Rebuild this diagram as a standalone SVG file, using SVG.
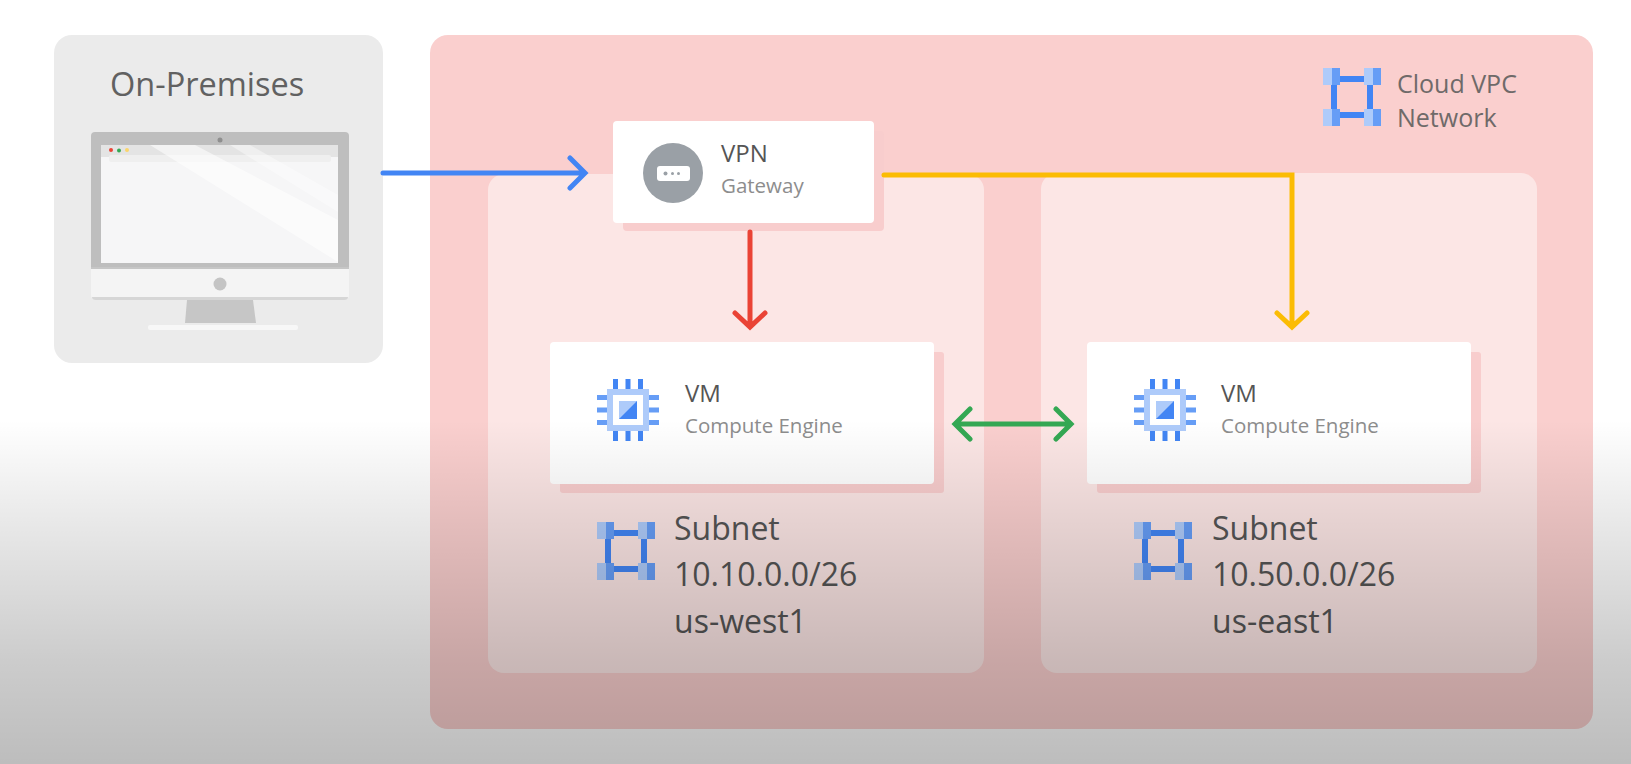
<svg xmlns="http://www.w3.org/2000/svg" xmlns:xlink="http://www.w3.org/1999/xlink" width="1631" height="764" viewBox="0 0 1631 764">
<style>
text{font-family:"Open Sans","Noto Sans","Liberation Sans",sans-serif}
.lg{font-size:32px;fill:#555}
.md{font-size:24px;fill:#555}
.sm{font-size:20.5px;fill:#8d8d8d}
.vpc{font-size:25px;fill:#6f6a69}
.sub{fill:#fce6e5}
.shadow{fill:#f8cdcd}
.card{fill:#fff}
.conn{fill:none;stroke-width:5;stroke-linecap:round;stroke-linejoin:miter}
.c1{fill:#aecbfa}.c2{fill:#669df6}.c3{fill:#4285f4}
</style>
<defs>
<linearGradient id="fade" x1="0" y1="0" x2="0" y2="1">
<stop offset="0" stop-color="#000" stop-opacity="0"/>
<stop offset="0.3" stop-color="#000" stop-opacity="0.09"/>
<stop offset="0.7" stop-color="#000" stop-opacity="0.2"/>
<stop offset="1" stop-color="#000" stop-opacity="0.26"/>
</linearGradient>
<g id="net">
<rect x="5" y="8" width="48" height="6" class="c3"/>
<rect x="5" y="44" width="48" height="6" class="c3"/>
<rect x="8" y="8" width="6" height="42" class="c3"/>
<rect x="44" y="8" width="6" height="42" class="c3"/>
<rect x="0" y="0" width="9" height="17" class="c1"/><rect x="9" y="0" width="8" height="17" class="c2"/>
<rect x="41" y="0" width="9" height="17" class="c1"/><rect x="50" y="0" width="8" height="17" class="c2"/>
<rect x="0" y="41" width="9" height="17" class="c1"/><rect x="9" y="41" width="8" height="17" class="c2"/>
<rect x="41" y="41" width="9" height="17" class="c1"/><rect x="50" y="41" width="8" height="17" class="c2"/>
</g>
<g id="chip">
<rect x="-21" y="-21" width="42" height="42" class="c1"/>
<rect x="-15" y="-15" width="30" height="30" fill="#fff"/>
<rect x="-9" y="-9" width="18" height="18" class="c1"/>
<polygon points="9,-9 9,9 -9,9" class="c3"/>
<g class="c3">
<rect x="-15" y="-31" width="5" height="10"/><rect x="-2.5" y="-31" width="5" height="10"/><rect x="10" y="-31" width="5" height="10"/>
<rect x="-15" y="21" width="5" height="10"/><rect x="-2.5" y="21" width="5" height="10"/><rect x="10" y="21" width="5" height="10"/>
</g>
<g class="c2">
<rect x="-31" y="-15" width="10" height="5"/><rect x="-31" y="-2.5" width="10" height="5"/><rect x="-31" y="10" width="10" height="5"/>
<rect x="21" y="-15" width="10" height="5"/><rect x="21" y="-2.5" width="10" height="5"/><rect x="21" y="10" width="10" height="5"/>
</g>
</g>
</defs>
<rect width="1631" height="764" fill="#fff"/>

<g id="on-premises">
<rect x="54" y="35" width="329" height="328" rx="18" fill="#ebebeb"/>
<text x="110" y="96" font-size="33" fill="#616161" style="font-size:32.5px">On-Premises</text>
<path d="M91 136a4 4 0 0 1 4-4h250a4 4 0 0 1 4 4v132H91z" fill="#bebebe"/>
<rect x="101" y="145" width="237" height="118" fill="#f6f6f7"/>
<rect x="101" y="145" width="237" height="12" fill="#e4e4e4"/>
<rect x="109" y="155" width="222" height="7" rx="2" fill="#efefef"/>
<polygon points="150,145 195,145 338,220 338,262" fill="#fff" opacity="0.55"/>
<polygon points="230,145 250,145 338,195 338,212" fill="#fff" opacity="0.4"/>
<circle cx="220" cy="140" r="2.5" fill="#8f8f8f"/>
<circle cx="111" cy="150" r="2" fill="#ea4335"/><circle cx="119" cy="150.500" r="2" fill="#34a853"/><circle cx="127" cy="150" r="2" fill="#fbd56b"/>
<path d="M91 268h258v27a4 4 0 0 1-4 4H95a4 4 0 0 1-4-4z" fill="#f4f4f4"/>
<rect x="91" y="267" width="258" height="2" fill="#c6c6c6"/>
<path d="M92 297q0 3 4 3h248q4 0 4-3" fill="#d6d6d6"/>
<circle cx="220" cy="284" r="6.500" fill="#c4c4c4"/>
<polygon points="187,300 253,300 256,323 185,323" fill="#c6c6c6"/>
<rect x="148" y="325" width="150" height="5" rx="2" fill="#f7f7f7"/>
</g>

<g id="cloud-vpc">
<rect x="430" y="35" width="1163" height="694" rx="18" fill="#facfce"/>
<use href="#net" x="1323" y="68"/>
<text class="vpc" x="1397" y="93">Cloud VPC</text>
<text class="vpc" x="1397" y="127">Network</text>
</g>

<g id="subnet-west">
<rect class="sub" x="488" y="174" width="496" height="499" rx="16"/>
<use href="#net" x="597" y="522"/>
<text class="lg" x="674" y="540">Subnet</text>
<text class="lg" x="674" y="586">10.10.0.0/26</text>
<text class="lg" x="674" y="633">us-west1</text>
</g>
<g id="subnet-east">
<rect class="sub" x="1041" y="173" width="496" height="500" rx="16"/>
<use href="#net" x="1134" y="522"/>
<text class="lg" x="1212" y="540">Subnet</text>
<text class="lg" x="1212" y="586">10.50.0.0/26</text>
<text class="lg" x="1212" y="633">us-east1</text>
</g>

<g id="vpn-gateway">
<rect class="shadow" x="623" y="131" width="261" height="100" rx="4"/>
<rect class="card" x="613" y="121" width="261" height="102" rx="4"/>
<circle cx="673" cy="173" r="30" fill="#9aa0a6"/>
<rect x="657" y="166" width="33" height="15" rx="3" fill="#fff"/>
<circle cx="665.500" cy="173.500" r="2" fill="#9aa0a6"/><circle cx="672.500" cy="173.500" r="1.500" fill="#9aa0a6"/><circle cx="678.500" cy="173.500" r="1.500" fill="#9aa0a6"/>
<text class="md" x="721" y="162">VPN</text>
<text class="sm" x="721" y="193">Gateway</text>
</g>

<g id="vm-west">
<rect class="shadow" x="560" y="352" width="384" height="141" rx="3"/>
<rect class="card" x="550" y="342" width="384" height="142" rx="4"/>
<use href="#chip" x="628" y="410"/>
<text class="md" x="685" y="402">VM</text>
<text class="sm" x="685" y="433">Compute Engine</text>
</g>
<g id="vm-east">
<rect class="shadow" x="1097" y="352" width="384" height="141" rx="3"/>
<rect class="card" x="1087" y="342" width="384" height="142" rx="4"/>
<use href="#chip" x="1165" y="410"/>
<text class="md" x="1221" y="402">VM</text>
<text class="sm" x="1221" y="433">Compute Engine</text>
</g>

<g id="connectors" class="conn">
<path d="M383 173H584M570 158l15 15-15 15" stroke="#4285f4"/>
<path d="M750 232V325M735 313l15 14 15-14" stroke="#ea4335"/>
<path d="M884 175H1292V325M1277 313l15 14 15-14" stroke="#fbbc04"/>
<path d="M957 424H1069M970 409l-15 15 15 15M1056 409l15 15-15 15" stroke="#34a853"/>
</g>

<rect id="fade-overlay" x="0" y="420" width="1631" height="344" fill="url(#fade)"/>
</svg>
